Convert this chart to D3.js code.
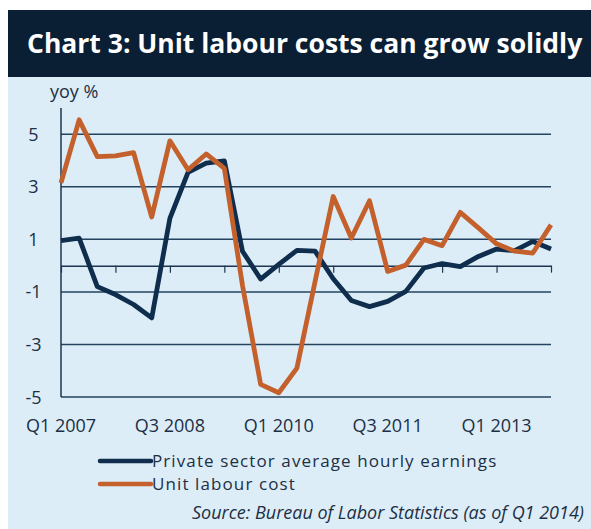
<!DOCTYPE html>
<html>
  <head>
    <meta charset="utf-8">
    <title>Chart 3</title>
    <style>
      body {
        margin: 0;
        padding: 0;
        background: #fff;
        font-family: 'Open Sans', sans-serif;
      }
    </style>
  </head>
  <body>
    <div id="chart"></div>

    <script src="https://cdnjs.cloudflare.com/ajax/libs/d3/7.8.5/d3.min.js"></script>
    <script>
      // quarters Q1 2007 .. Q4 2013
      const quarters = [];
      for (let y = 2007; y <= 2013; y++) {
        for (let q = 1; q <= 4; q++) quarters.push('Q' + q + ' ' + y);
      }

      const earnings = [0.95, 1.05, -0.8, -1.1, -1.48, -1.99, 1.8, 3.55, 3.9, 3.99,
        0.55, -0.51, 0.05, 0.58, 0.55, -0.5, -1.33, -1.56, -1.36, -0.98,
        -0.09, 0.08, -0.04, 0.35, 0.63, 0.57, 0.92, 0.63];

      const unitLabourCost = [3.15, 5.55, 4.15, 4.18, 4.3, 1.85, 4.75, 3.65, 4.25, 3.7,
        -0.75, -4.52, -4.84, -3.9, -0.6, 2.63, 1.05, 2.47, -0.22, 0.02,
        1.0, 0.76, 2.03, 1.44, 0.83, 0.55, 0.48, 1.55];

      const yTicks = [-5, -3, -1, 1, 3, 5];
      const xLabels = ['Q1 2007', 'Q3 2008', 'Q1 2010', 'Q3 2011', 'Q1 2013'];

      const seriesNames = ['Private sector average hourly earnings', 'Unit labour cost'];
      const seriesColors = ['#0f2d4d', '#c4602c'];

      const W = 591, H = 529;
      const svg = d3.select('#chart').append('svg')
        .attr('width', W)
        .attr('height', H);

      // panel + title bar
      svg.append('rect').attr('x', 8).attr('y', 10).attr('width', W - 8).attr('height', H - 10)
        .attr('fill', '#dcedf8');
      svg.append('rect').attr('x', 8).attr('y', 10).attr('width', W - 8).attr('height', 67)
        .attr('fill', '#0b1f34');
      svg.append('text')
        .attr('x', 27).attr('y', 53)
        .attr('fill', '#fff')
        .attr('font-size', 26.5)
        .attr('font-weight', 'bold')
        .text('Chart 3: Unit labour costs can grow solidly');

      const x = d3.scalePoint().domain(quarters).range([61, 551]);
      const y = d3.scaleLinear().domain([-5, 6]).range([397, 108]);

      // gridlines
      svg.append('g').selectAll('line')
        .data(yTicks)
        .join('line')
        .attr('x1', 61).attr('x2', 551)
        .attr('y1', d => y(d)).attr('y2', d => y(d))
        .attr('stroke', '#24435f')
        .attr('stroke-width', 1.5);

      // y labels
      svg.append('g').selectAll('text')
        .data(yTicks)
        .join('text')
        .attr('x', 33.5)
        .attr('y', d => y(d) + 6.5)
        .attr('text-anchor', 'middle')
        .attr('font-size', 18)
        .attr('fill', '#1c2f44')
        .text(d => d);

      svg.append('text')
        .attr('x', 50).attr('y', 98)
        .attr('font-size', 18)
        .attr('fill', '#1c2f44')
        .text('yoy %');

      // left axis line
      svg.append('line')
        .attr('x1', 61).attr('x2', 61)
        .attr('y1', y(6)).attr('y2', y(-5))
        .attr('stroke', '#1c3550')
        .attr('stroke-width', 1.5);

      // x axis at zero
      const xAxis = d3.axisBottom(x)
        .tickValues(quarters.filter((d, i) => i % 3 === 0))
        .tickSize(7)
        .tickSizeOuter(0)
        .tickFormat('');
      const gx = svg.append('g')
        .attr('transform', 'translate(0,' + y(0) + ')')
        .call(xAxis);
      gx.select('.domain').attr('stroke', '#1c3550').attr('stroke-width', 1.5);
      gx.selectAll('.tick line').attr('stroke', '#1c3550').attr('stroke-width', 1.2);

      // x labels
      svg.append('g').selectAll('text')
        .data(xLabels)
        .join('text')
        .attr('x', d => x(d))
        .attr('y', 432)
        .attr('text-anchor', 'middle')
        .attr('font-size', 18)
        .attr('fill', '#1c2f44')
        .text(d => d);

      // lines
      const line = d3.line()
        .x((d, i) => x(quarters[i]))
        .y(d => y(d));

      [earnings, unitLabourCost].forEach((s, k) => {
        svg.append('path')
          .datum(s)
          .attr('d', line)
          .attr('fill', 'none')
          .attr('stroke', seriesColors[k])
          .attr('stroke-width', 4.8)
          .attr('stroke-linejoin', 'round');
      });

      // legend
      const lg = svg.append('g').selectAll('g')
        .data(seriesNames)
        .join('g')
        .attr('transform', (d, i) => 'translate(0,' + (461 + i * 23) + ')');
      lg.append('line')
        .attr('x1', 100).attr('x2', 151)
        .attr('stroke', (d, i) => seriesColors[i])
        .attr('stroke-width', 4.5)
        .attr('stroke-linecap', 'round');
      lg.append('text')
        .attr('x', 152).attr('y', 6)
        .attr('font-size', 17)
        .attr('letter-spacing', 1.1)
        .attr('fill', '#1c2f44')
        .text(d => d);

      svg.append('text')
        .attr('x', 584).attr('y', 519)
        .attr('text-anchor', 'end')
        .attr('font-size', 18)
        .attr('font-style', 'italic')
        .attr('fill', '#1c2f44')
        .text('Source: Bureau of Labor Statistics (as of Q1 2014)');
    </script>
  </body>
</html>
